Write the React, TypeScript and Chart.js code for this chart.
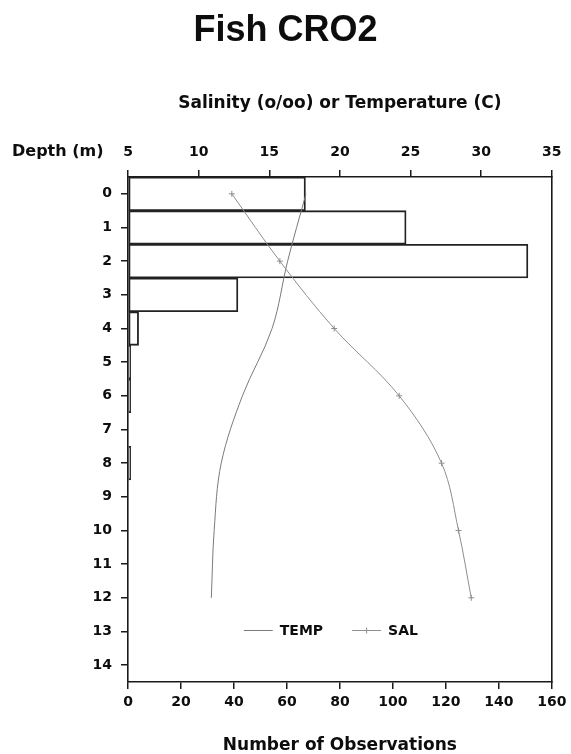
import React, { useEffect, useRef } from 'react';
import { Chart, registerables } from 'chart.js';

Chart.register(...registerables);

// ---- data ----
const depthLabels = ['0', '1', '2', '3', '4', '5', '6', '7', '8', '9', '10', '11', '12', '13', '14'];
const observationCounts = [67, 105, 151, 41.5, 4, 1, 1, 0, 1, 0, 0, 0, 0, 0, 0];
const profileDepths = ['0', '2', '4', '6', '8', '10', '12'];
const temperature = [17.6, 16.3, 15.2, 13.1, 11.6, 11.1, 10.9];
const salinity = [12.35, 15.75, 19.6, 24.2, 27.2, 28.4, 29.3];
const countAxis = { min: 0, max: 160, step: 20 };
const tempAxis = { min: 5, max: 35, step: 5 };
const legendDepth = 13;

const TXT = '#0d0d0d';
const AXIS_FONT = '"DejaVu Sans", "Liberation Sans", sans-serif';

const depthLabelPlugin = {
  id: 'depthLabel',
  afterDraw(chart: any) {
    const ctx = chart.ctx;
    const top = chart.scales.xTop;
    ctx.save();
    ctx.font = `bold 16px ${AXIS_FONT}`;
    ctx.fillStyle = TXT;
    ctx.textAlign = 'left';
    ctx.textBaseline = 'middle';
    ctx.fillText('Depth (m)', 12, top.bottom - 25.5);
    ctx.restore();
  },
};

const innerLegendPlugin = {
  id: 'innerLegend',
  afterDraw(chart: any) {
    const ctx = chart.ctx;
    const area = chart.chartArea;
    const y = chart.scales.y.getPixelForValue(legendDepth) - 1;
    const items = chart.data.datasets.filter((d: any) => d.type === 'line');
    ctx.save();
    ctx.font = `bold 14px ${AXIS_FONT}`;
    const lineLen = 29;
    const gap = 7;
    const between = 29;
    let total = 0;
    items.forEach((d: any, i: number) => {
      total += lineLen + gap + ctx.measureText(d.label).width + (i < items.length - 1 ? between : 0);
    });
    let x = (area.left + area.right) / 2 - 9 - total / 2;
    items.forEach((d: any) => {
      ctx.strokeStyle = d.borderColor;
      ctx.lineWidth = 1;
      ctx.beginPath();
      ctx.moveTo(x, y);
      ctx.lineTo(x + lineLen, y);
      ctx.stroke();
      if (d.pointRadius > 0) {
        const cx = x + lineLen / 2;
        ctx.beginPath();
        ctx.moveTo(cx, y - 3);
        ctx.lineTo(cx, y + 3);
        ctx.moveTo(cx - 3, y);
        ctx.lineTo(cx + 3, y);
        ctx.stroke();
      }
      x += lineLen + gap;
      ctx.fillStyle = TXT;
      ctx.textAlign = 'left';
      ctx.textBaseline = 'middle';
      ctx.fillText(d.label, x, y + 1);
      x += ctx.measureText(d.label).width + between;
    });
    ctx.restore();
  },
};

export default function App() {
  const ref = useRef<HTMLCanvasElement | null>(null);

  useEffect(() => {
    if (!ref.current) return;
    const tickGrid = {
      display: true,
      drawOnChartArea: false,
      drawTicks: true,
      tickLength: 7,
      color: '#1a1a1a',
      lineWidth: 1.5,
    };
    const border = { display: true, color: '#1a1a1a', width: 1.6 };
    const tickFont = { family: AXIS_FONT, size: 14, weight: 'bold' as const };
    const titleFont = { family: AXIS_FONT, size: 17, weight: 'bold' as const };

    const chart = new Chart(ref.current, {
      type: 'bar',
      data: {
        labels: depthLabels,
        datasets: [
          {
            type: 'line',
            label: 'TEMP',
            data: profileDepths.map((d, i) => ({ x: temperature[i], y: d })),
            xAxisID: 'xTop',
            yAxisID: 'y',
            borderColor: '#7a7a7a',
            borderWidth: 1,
            pointRadius: 0,
            tension: 0.35,
            fill: false,
            order: 1,
          } as any,
          {
            type: 'line',
            label: 'SAL',
            data: profileDepths.map((d, i) => ({ x: salinity[i], y: d })),
            xAxisID: 'xTop',
            yAxisID: 'y',
            borderColor: '#8e8e8e',
            borderWidth: 1,
            pointRadius: 3,
            pointStyle: 'cross',
            pointBorderColor: '#8e8e8e',
            pointBorderWidth: 1,
            tension: 0.35,
            fill: false,
            order: 0,
          } as any,
          {
            type: 'bar',
            label: 'Observations',
            data: observationCounts,
            xAxisID: 'x',
            yAxisID: 'y',
            backgroundColor: 'rgba(255,255,255,0)',
            borderColor: '#222',
            borderWidth: 1.2,
            borderSkipped: false,
            barPercentage: 1,
            categoryPercentage: 1,
            order: 3,
          } as any,
        ],
      },
      options: {
        indexAxis: 'y',
        responsive: false,
        animation: false,
        layout: { padding: 0 },
        plugins: {
          legend: { display: false },
          tooltip: { enabled: false },
          title: {
            display: true,
            text: 'Fish CRO2',
            color: TXT,
            font: { family: '"Liberation Sans", Arial, sans-serif', size: 36, weight: 'bold' },
            padding: { top: 9, bottom: 9 },
          },
        },
        scales: {
          y: {
            type: 'category',
            position: 'left',
            offset: true,
            grid: { ...tickGrid, offset: false },
            border,
            ticks: { color: TXT, font: tickFont, padding: 9 },
            afterFit: (s: any) => {
              s.width = 128;
            },
          },
          x: {
            type: 'linear',
            position: 'bottom',
            min: countAxis.min,
            max: countAxis.max,
            grid: tickGrid,
            border,
            ticks: { stepSize: countAxis.step, color: TXT, font: tickFont, padding: 4.5 },
            title: {
              display: true,
              text: 'Number of Observations',
              color: TXT,
              font: titleFont,
              padding: { top: 0, bottom: -2 },
            },
            afterFit: (s: any) => {
              s.height = 72;
            },
          },
          xTop: {
            type: 'linear',
            position: 'top',
            min: tempAxis.min,
            max: tempAxis.max,
            grid: tickGrid,
            border,
            ticks: { stepSize: tempAxis.step, color: TXT, font: tickFont, padding: 9.5 },
            title: {
              display: true,
              text: 'Salinity (o/oo) or Temperature (C)',
              color: TXT,
              font: titleFont,
              padding: { top: 32, bottom: 0 },
            },
            afterFit: (s: any) => {
              s.height = 115.8;
            },
          },
          yRight: {
            type: 'linear',
            position: 'right',
            min: 0,
            max: 1,
            grid: { display: false, drawTicks: false },
            border,
            ticks: { display: false },
            afterFit: (s: any) => {
              s.width = 19;
            },
          },
        },
      } as any,
      plugins: [depthLabelPlugin, innerLegendPlugin],
    });
    return () => chart.destroy();
  }, []);

  return (
    <canvas
      ref={ref}
      width={571}
      height={754}
      style={{ position: 'absolute', left: 0, top: 0, display: 'block', width: 571, height: 754 }}
    />
  );
}
